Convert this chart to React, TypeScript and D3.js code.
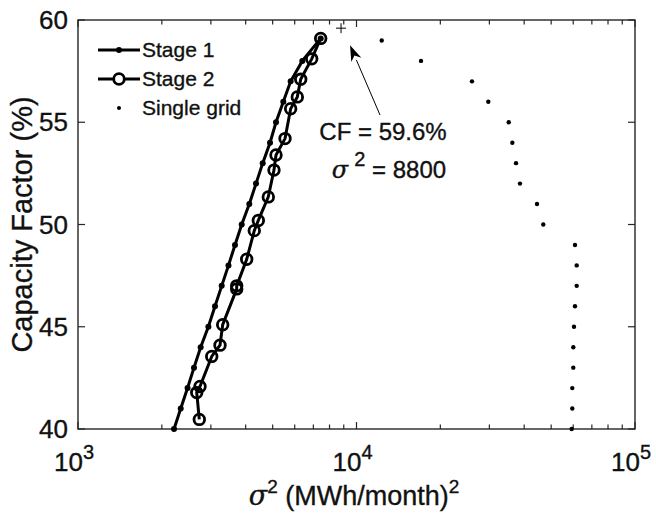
import React from 'react';
import * as d3 from 'd3';

const stage1CF = [40, 41, 42, 43, 44, 45, 46, 47, 48, 49, 50, 51, 52, 53, 54, 55, 56, 57, 58, 59.1];
const stage1Var = [2212, 2338, 2474, 2609, 2757, 2938, 3104, 3281, 3470, 3662, 3871, 4122, 4357, 4605, 4892, 5140, 5460, 5802, 6389, 7437];
const stage2CF = [40.47, 41.78, 42.08, 43.55, 44.1, 45.1, 46.85, 47.0, 48.3, 49.7, 50.2, 51.35, 52.66, 53.4, 54.2, 55.66, 56.24, 57.1, 58.1, 59.1];
const stage2Var = [2726, 2669, 2742, 3021, 3235, 3308, 3714, 3714, 4034, 4295, 4441, 4823, 5055, 5140, 5538, 5802, 6130, 6305, 6906, 7437];
const singleCF = [40, 41, 42, 43, 44, 45, 46, 47, 48, 49, 50, 51, 52, 53, 54, 55, 56, 57, 58, 59];
const singleVar = [59240, 59540, 59540, 60040, 60040, 60390, 60890, 61750, 61750, 60890, 46849, 44479, 38640, 37396, 36268, 35205, 29737, 25980, 17046, 12319];
const optimum = { cf: 59.6, v: 8800 };
const yTicks = [40, 45, 50, 55, 60];
const xMajor = [1000, 10000, 100000];
const xExponents = ['3', '4', '5'];
const legendLabels = ['Stage 1', 'Stage 2', 'Single grid'];

const FONT = '"Liberation Sans", Arial, Helvetica, sans-serif';

export default function App() {
  const W = 656, H = 517;
  const L = 78, R = 635, T = 20, B = 429;
  const x = d3.scaleLog().domain([1000, 100000]).range([L, R]);
  const y = d3.scaleLinear().domain([40, 60]).range([B, T]);
  const line = d3.line<[number, number]>().x(d => x(d[0])).y(d => y(d[1]));
  const s1 = stage1Var.map((v, i) => [v, stage1CF[i]] as [number, number]);
  const s2 = stage2Var.map((v, i) => [v, stage2CF[i]] as [number, number]);
  const minor: number[] = [];
  [1000, 10000].forEach(d => { for (let k = 2; k <= 9; k++) minor.push(d * k); });
  const axisColor = '#262626';
  const px = x(optimum.v), py = y(optimum.cf);
  const ax0 = 380, ay0 = 115;
  const hx = px + 9, hy = py + 17;
  const ang = Math.atan2(hy - ay0, hx - ax0);
  const hl = 16, hw = 5.5;
  const bx = hx - hl * Math.cos(ang), by = hy - hl * Math.sin(ang);
  const nx = -Math.sin(ang), ny = Math.cos(ang);
  const head = `M${hx},${hy}L${bx + nx * hw},${by + ny * hw}L${bx + 0.3 * hl * Math.cos(ang)},${by + 0.3 * hl * Math.sin(ang)}L${bx - nx * hw},${by - ny * hw}Z`;
  const txt = { fill: '#111', stroke: '#111', strokeWidth: 0.35 };

  return (
    <svg width={W} height={H} style={{ position: 'absolute', left: 0, top: 0, background: '#fff' }} fontFamily={FONT}>
      <rect x={0} y={0} width={W} height={H} fill="#fff" />
      <g stroke={axisColor} strokeWidth={1.2}>
        {yTicks.map(t => (
          <g key={'y' + t}>
            <line x1={L} x2={L + 7} y1={y(t)} y2={y(t)} />
            <line x1={R} x2={R - 7} y1={y(t)} y2={y(t)} />
          </g>
        ))}
        {xMajor.map(t => (
          <g key={'xm' + t}>
            <line x1={x(t)} x2={x(t)} y1={B} y2={B - 7} />
            <line x1={x(t)} x2={x(t)} y1={T} y2={T + 7} />
          </g>
        ))}
        {minor.map(t => (
          <g key={'xn' + t}>
            <line x1={x(t)} x2={x(t)} y1={B} y2={B - 4.5} />
            <line x1={x(t)} x2={x(t)} y1={T} y2={T + 4.5} />
          </g>
        ))}
      </g>
      <rect x={L} y={T} width={R - L} height={B - T} fill="none" stroke={axisColor} strokeWidth={1.4} />
      <g {...txt} fontSize={26}>
        {yTicks.map(t => (
          <text key={'yl' + t} x={L - 10} y={y(t) + 9} textAnchor="end">{t}</text>
        ))}
        {xMajor.map((t, i) => (
          <text key={'xl' + t} x={x(t) - 4} y={B + 42} textAnchor="middle">
            10<tspan fontSize={20} dy={-12}>{xExponents[i]}</tspan>
          </text>
        ))}
      </g>
      <text {...txt} x={354} y={505} textAnchor="middle" fontSize={27}>
        <tspan fontStyle="italic" fontFamily='"DejaVu Serif", serif'>σ</tspan>
        <tspan fontSize={19} dy={-12}>2</tspan>
        <tspan dy={12}> (MWh/month)</tspan>
        <tspan fontSize={19} dy={-12}>2</tspan>
      </text>
      <text {...txt} transform={`translate(32,${(T + B) / 2}) rotate(-90)`} textAnchor="middle" fontSize={29}>Capacity Factor (%)</text>
      <path d={line(s1) || ''} fill="none" stroke="#000" strokeWidth={3} />
      {s1.map((d, i) => <circle key={'a' + i} cx={x(d[0])} cy={y(d[1])} r={3} fill="#000" />)}
      <path d={line(s2) || ''} fill="none" stroke="#000" strokeWidth={3} />
      {s2.map((d, i) => <circle key={'b' + i} cx={x(d[0])} cy={y(d[1])} r={5.3} fill="none" stroke="#000" strokeWidth={2.8} />)}
      {singleVar.map((v, i) => <circle key={'c' + i} cx={x(v)} cy={y(singleCF[i])} r={2.2} fill="#000" />)}
      <g stroke="#000" strokeWidth={1}>
        <line x1={px - 5} x2={px + 5} y1={py} y2={py} />
        <line x1={px} x2={px} y1={py - 5} y2={py + 5} />
      </g>
      <line x1={ax0} y1={ay0} x2={bx} y2={by} stroke="#000" strokeWidth={1} />
      <path d={head} fill="#000" />
      <text {...txt} x={383} y={140} textAnchor="middle" fontSize={24}>CF = 59.6%</text>
      <text {...txt} x={389} y={178} textAnchor="middle" fontSize={24}>
        <tspan fontStyle="italic" fontFamily='"DejaVu Serif", serif'>σ</tspan>
        <tspan dx={6} fontSize={20} dy={-12}>2</tspan>
        <tspan dy={12}> = 8800</tspan>
      </text>
      <g>
        <line x1={98} x2={140} y1={50} y2={50} stroke="#000" strokeWidth={3} />
        <circle cx={119} cy={50} r={3} fill="#000" />
        <line x1={98} x2={140} y1={79} y2={79} stroke="#000" strokeWidth={3} />
        <circle cx={119} cy={79} r={5.3} fill="#fff" stroke="#000" strokeWidth={2.8} />
        <circle cx={119} cy={108} r={2} fill="#000" />
        {legendLabels.map((lab, i) => (
          <text key={lab} {...txt} x={142} y={57 + i * 29} fontSize={21}>{lab}</text>
        ))}
      </g>
    </svg>
  );
}
